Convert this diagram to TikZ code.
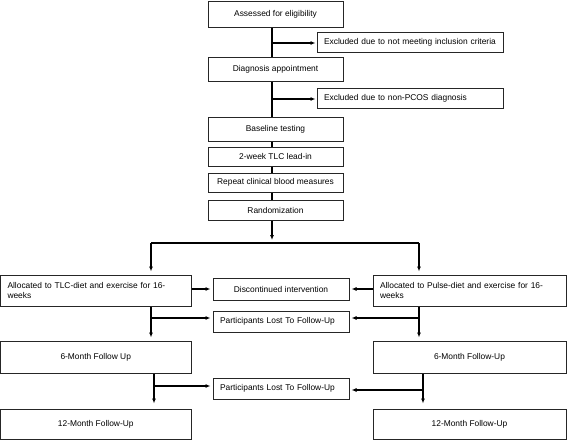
\documentclass[tikz,border=0pt]{standalone}
\usepackage{fontspec}
\setmainfont{Liberation Sans}
\usetikzlibrary{arrows.meta}
\begin{document}
\begin{tikzpicture}[x=1pt,y=-1pt,
  box/.style={draw=black!85, line width=1pt, inner sep=0pt, font=\fontsize{8.4}{9.5}\selectfont, align=center},
  lbox/.style={box, align=left, inner xsep=7pt},
  ln/.style={draw=black, line width=1.1pt},
  arr/.style={ln, -{Latex[length=5pt,width=4pt]}}]
\useasboundingbox (0,0) rectangle (567,440);
% top column
\node[box, minimum width=135pt, minimum height=26pt] (A) at (275.5,14) {Assessed for eligibility};
\node[lbox, text width=172pt, minimum height=20pt] (E1) at (410,42) {Excluded due to not meeting inclusion criteria};
\node[box, minimum width=135pt, minimum height=24pt] (D) at (275.5,69) {Diagnosis appointment};
\node[lbox, text width=172pt, minimum height=20pt] (E2) at (410,98) {Excluded due to non-PCOS diagnosis};
\node[box, minimum width=135pt, minimum height=24pt] (B) at (275.5,129) {Baseline testing};
\node[box, minimum width=135pt, minimum height=19pt] (W) at (275.5,156.5) {2-week TLC lead-in};
\node[box, minimum width=135pt, minimum height=19pt] (R) at (275.5,182.5) {Repeat clinical blood measures};
\node[box, minimum width=135pt, minimum height=20pt] (Rd) at (275.5,210) {Randomization};
% arms
\node[lbox, text width=176.5pt, minimum height=31pt] (L1) at (95.75,290.5) {Allocated to TLC-diet and exercise for 16-\\weeks};
\node[lbox, text width=179pt, minimum height=31pt] (R1) at (469.5,290.5) {Allocated to Pulse-diet and exercise for 16-\\weeks};
\node[box, minimum width=136pt, minimum height=22pt] (Dc) at (281,289) {Discontinued intervention};
\node[lbox, text width=122pt, minimum height=21pt] (P1) at (281,321.5) {Participants Lost To Follow-Up};
\node[box, minimum width=190.5pt, minimum height=32pt] (L6) at (95.75,357) {6-Month Follow Up};
\node[box, minimum width=193pt, minimum height=32pt] (R6) at (469.5,357) {6-Month Follow-Up};
\node[lbox, text width=122pt, minimum height=21pt] (P2) at (281,388.5) {Participants Lost To Follow-Up};
\node[box, minimum width=190.5pt, minimum height=30pt] (L12) at (95.75,424) {12-Month Follow-Up};
\node[box, minimum width=193pt, minimum height=30pt] (R12) at (469.5,424) {12-Month Follow-Up};
% coordinates
\coordinate (cx) at (272,0);
\coordinate (b1) at (272,43);
\coordinate (b2) at (272,99);
\coordinate (sL) at (151,243);
\coordinate (sR) at (419,243);
\coordinate (k1) at (151,318);
\coordinate (k2) at (419,318);
\coordinate (c3) at (154,0);
\coordinate (c4) at (423,0);
\coordinate (k3) at (154,386);
\coordinate (k4) at (423,390);
% top connectors
\draw[ln] (A.south -| cx) -- (D.north -| cx);
\draw[arr, shorten >=1pt] (b1) -- (b1 -| E1.west);
\draw[ln] (D.south -| cx) -- (B.north -| cx);
\draw[arr, shorten >=1pt] (b2) -- (b2 -| E2.west);
\draw[ln] (B.south -| cx) -- (W.north -| cx);
\draw[ln] (W.south -| cx) -- (R.north -| cx);
\draw[ln] (R.south -| cx) -- (Rd.north -| cx);
\draw[arr, shorten >=3pt] (Rd.south -| cx) -- (sL -| cx);
\draw[ln] (sL) -- (sR);
\draw[arr, shorten >=3pt] (sL) -- (sL |- L1.north);
\draw[arr, shorten >=3pt] (sR) -- (sR |- R1.north);
% discontinued
\draw[arr, shorten >=2pt] (L1.east |- Dc.west) -- (Dc.west);
\draw[arr, shorten >=2pt] (R1.west |- Dc.east) -- (Dc.east);
% lost 1
\draw[arr, shorten >=3pt] (sL |- L1.south) -- (sL |- L6.north);
\draw[arr, shorten >=3pt] (sR |- R1.south) -- (sR |- R6.north);
\draw[arr, shorten >=2pt] (k1) -- (k1 -| P1.west);
\draw[arr, shorten >=2pt] (k2) -- (k2 -| P1.east);
% lost 2
\draw[arr, shorten >=5pt] (L6.south -| c3) -- (L12.north -| c3);
\draw[arr, shorten >=5pt] (R6.south -| c4) -- (R12.north -| c4);
\draw[arr, shorten >=2pt] (k3) -- (k3 -| P2.west);
\draw[arr, shorten >=2pt] (k4) -- (k4 -| P2.east);
\end{tikzpicture}
\end{document}
